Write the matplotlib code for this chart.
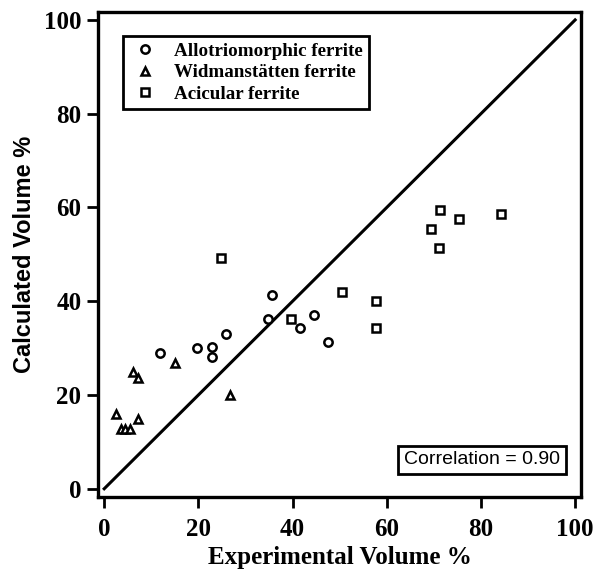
import matplotlib
matplotlib.use("Agg")
import matplotlib.pyplot as plt

# Experimental vs calculated volume percentages
allo_x = [11.9, 19.8, 22.8, 22.8, 25.8, 34.7, 35.7, 41.6, 44.6, 47.6]
allo_y = [28.9, 30.1, 30.3, 28.1, 33.1, 36.3, 41.3, 34.3, 37.0, 31.2]

widm_x = [2.5, 3.5, 4.5, 5.5, 7.1, 6.2, 7.1, 15.0, 26.8]
widm_y = [16.0, 12.8, 12.8, 12.8, 14.8, 24.8, 23.7, 26.8, 20.0]

acic_x = [24.8, 39.6, 50.5, 57.8, 57.8, 69.5, 71.0, 71.4, 75.3, 84.3]
acic_y = [49.2, 36.2, 42.0, 40.1, 34.2, 55.5, 51.3, 59.5, 57.5, 58.5]

ticks = [0, 20, 40, 60, 80, 100]
correlation = 0.90

plt.rcParams['font.family'] = ['Liberation Serif', 'DejaVu Serif']

fig = plt.figure(figsize=(5.98, 5.69), dpi=100)
ax = fig.add_axes([0.164, 0.127, 0.808, 0.852])

ax.plot([0, 100], [0, 100], color='black', linewidth=2.2)

mk = dict(linestyle='none', markerfacecolor='white', markeredgecolor='black',
          markeredgewidth=1.8, color='black')
ax.plot(allo_x, allo_y, marker='o', markersize=6, label='Allotriomorphic ferrite', **mk)
ax.plot(widm_x, widm_y, marker='^', markersize=6, label='Widmanstätten ferrite', **mk)
ax.plot(acic_x, acic_y, marker='s', markersize=6, label='Acicular ferrite', **mk)

ax.set_xlim(-1.3, 101.3)
ax.set_ylim(-1.7, 101.7)
ax.set_xticks(ticks)
ax.set_yticks(ticks)
ax.tick_params(direction='out', length=8, width=2, labelsize=18)
ax.tick_params(axis='x', pad=7)
ax.tick_params(axis='y', pad=4)
for lab in ax.get_xticklabels() + ax.get_yticklabels():
    lab.set_fontweight('bold')
for s in ax.spines.values():
    s.set_linewidth(2.4)

ax.set_xlabel('Experimental Volume %', fontsize=18, fontweight='bold', labelpad=4)
ax.set_ylabel('Calculated Volume %', fontsize=17, fontweight='bold',
              family=['Liberation Sans', 'DejaVu Sans'], labelpad=6)

leg = ax.legend(loc='upper left', bbox_to_anchor=(0.052, 0.951), borderaxespad=0,
                prop=dict(size=13.7, weight='bold'),
                frameon=True, fancybox=False, edgecolor='black', handletextpad=0.7,
                borderpad=0.35, labelspacing=0.22, handlelength=1.6)
leg.get_frame().set_linewidth(2)
leg.get_frame().set_alpha(1)

ax.text(0.795, 0.076, f'Correlation = {correlation:.2f}', transform=ax.transAxes,
        fontsize=14, family=['Liberation Sans', 'DejaVu Sans'],
        ha='center', va='center',
        bbox=dict(boxstyle='square,pad=0.3', facecolor='white', edgecolor='black',
                  linewidth=2))

fig.savefig('out.png', dpi=100)
